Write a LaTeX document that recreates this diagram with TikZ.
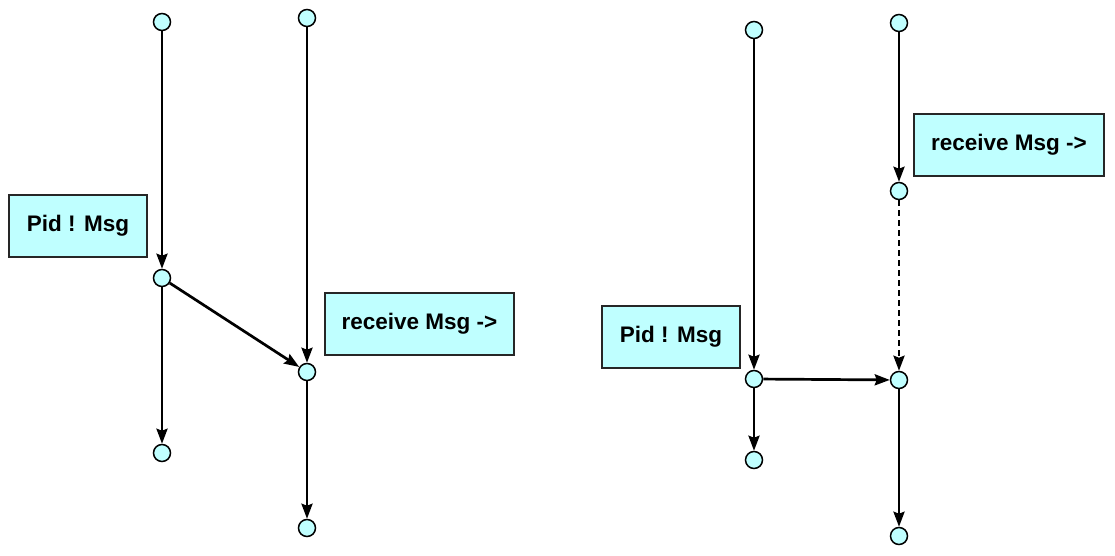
\documentclass[tikz,border=0pt]{standalone}
\usepackage{fontspec}
\setmainfont{Liberation Sans}
\usetikzlibrary{arrows.meta}
\definecolor{cyanfill}{HTML}{C0FFFF}
\definecolor{boxfill}{HTML}{BFFFFF}
\begin{document}
\begin{tikzpicture}[x=1pt,y=-1pt,
  pt/.style={circle,draw=black,fill=cyanfill,line width=1.5pt,minimum size=17pt,inner sep=0pt},
  lbl/.style={draw=black!85,fill=boxfill,line width=1.4pt,inner sep=0pt,font=\bfseries\fontsize{22.5}{26}\selectfont},
  edge/.style={line width=2.7pt,-{Stealth[length=15pt,width=11pt,inset=2pt]},shorten >=0pt}]
\useasboundingbox (0,0) rectangle (1115,556);
% left
\node[pt] (a1) at (162,22) {};
\node[pt] (a2) at (162,278) {};
\node[pt] (a3) at (162,453) {};
\node[pt] (b1) at (307,18) {};
\node[pt] (b2) at (307,372) {};
\node[pt] (b3) at (307,528) {};
\node[lbl,minimum width=138pt,minimum height=62pt] (l1) at (78,226) {\raisebox{-2pt}{Pid ! Msg}};
\node[lbl,minimum width=189pt,minimum height=62pt] (l2) at (419.5,324) {\raisebox{-2pt}{receive Msg ->}};
\draw[edge] (a1) -- (a2);
\draw[edge] (a2) -- (a3);
\draw[edge] (a2) -- (b2);
\draw[edge] (b1) -- (b2);
\draw[edge] (b2) -- (b3);
% right
\node[pt] (c1) at (754,30) {};
\node[pt] (c2) at (754,379) {};
\node[pt] (c3) at (754,460) {};
\node[pt] (d1) at (899,23) {};
\node[pt] (d2) at (899,191) {};
\node[pt] (d3) at (899,380) {};
\node[pt] (d4) at (899,536) {};
\node[lbl,minimum width=190pt,minimum height=62pt] (r1) at (1009,145) {\raisebox{-2pt}{receive Msg ->}};
\node[lbl,minimum width=138pt,minimum height=62pt] (r2) at (671,337) {\raisebox{-2pt}{Pid ! Msg}};
\draw[edge] (c1) -- (c2);
\draw[edge] (c2) -- (c3);
\draw[edge] (c2) -- (d3);
\draw[edge] (d1) -- (d2);
\draw[edge,dash pattern=on 6pt off 4pt] (d2) -- (d3);
\draw[edge] (d3) -- (d4);
\end{tikzpicture}
\end{document}
